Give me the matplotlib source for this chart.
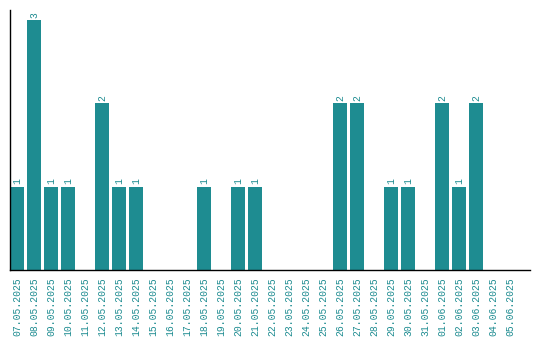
import matplotlib
matplotlib.use('Agg')
import matplotlib.pyplot as plt

# Daily counts
dates = ['07.05.2025', '08.05.2025', '09.05.2025', '10.05.2025', '11.05.2025',
         '12.05.2025', '13.05.2025', '14.05.2025', '15.05.2025', '16.05.2025',
         '17.05.2025', '18.05.2025', '19.05.2025', '20.05.2025', '21.05.2025',
         '22.05.2025', '23.05.2025', '24.05.2025', '25.05.2025', '26.05.2025',
         '27.05.2025', '28.05.2025', '29.05.2025', '30.05.2025', '31.05.2025',
         '01.06.2025', '02.06.2025', '03.06.2025', '04.06.2025', '05.06.2025']
counts = [1, 3, 1, 1, 0, 2, 1, 1, 0, 0,
          0, 1, 0, 1, 1, 0, 0, 0, 0, 2,
          2, 0, 1, 1, 0, 2, 1, 2, 0, 0]

teal = '#1e8c91'
font = 'Liberation Mono'

fig = plt.figure(figsize=(5.4, 3.4), dpi=100)
ax = fig.add_axes([10 / 540, 70 / 340, 520 / 540, 260 / 340])

x = list(range(len(dates)))
bw = 14 / 17
ax.bar(x, counts, width=bw, color=teal)

# value labels above non-empty bars
for xi, c in zip(x, counts):
    if c > 0:
        ax.text(xi, c + 0.03, str(c), rotation=90, ha='center', va='bottom',
                color=teal, fontsize=7, family=font)

ax.set_xlim(-bw / 2, -bw / 2 + 520 / 17)
ax.set_ylim(0, 3.12)
ax.set_xticks(x)
ax.set_xticklabels(dates, rotation=90, color=teal, fontsize=7, family=font)
ax.set_yticks([])
ax.tick_params(axis='x', length=0, pad=5)

for side in ['top', 'right']:
    ax.spines[side].set_visible(False)
ax.spines['left'].set_linewidth(1)
ax.spines['bottom'].set_linewidth(1)

plt.savefig('out.png', dpi=100)
